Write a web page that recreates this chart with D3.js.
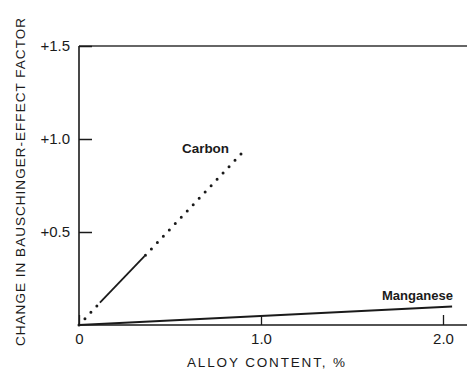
<!DOCTYPE html>
<html>
<head>
<meta charset="utf-8">
<script src="https://cdn.jsdelivr.net/npm/d3@7"></script>
<style>
  body { margin: 0; background: #fff; }
  svg text { font-family: "Liberation Sans", Arial, sans-serif; fill: #1a1a1a; }
</style>
</head>
<body>
<div id="chart"></div>
<script>
// values
let xTicks = [0, 1.0, 2.0];
let yTicks = [0.5, 1.0, 1.5];
let carbonDotLow = [[0, 0], [0.115, 0.12]];
let carbonSolid = [[0.115, 0.12], [0.36, 0.37]];
let carbonDotHigh = [[0.365, 0.375], [0.91, 0.94]];
let manganese = [[0, 0], [2.05, 0.1]];

let W = 467, H = 372;
let svg = d3.select("#chart").append("svg").attr("width", W).attr("height", H);

// scales: 0 -> 79px, 2.0 -> 443px ; 0 -> 325px, 1.5 -> 46px
let x = d3.scaleLinear().domain([0, 2]).range([79, 443]);
let y = d3.scaleLinear().domain([0, 1.5]).range([325, 46]);
let ink = "#1a1a1a";

// top frame line
svg.append("line")
    .attr("x1", x(0)).attr("x2", W)
    .attr("y1", y(1.5)).attr("y2", y(1.5))
    .attr("stroke", "#333").attr("stroke-width", 1.3);

// y axis
let yAxis = svg.append("g")
    .attr("transform", `translate(${x(0)},0)`)
    .call(d3.axisLeft(y).tickValues(yTicks).tickSize(-13).tickPadding(9)
        .tickFormat(d => "+" + d.toFixed(1)));
yAxis.select(".domain").remove();
yAxis.append("line").attr("x1", 0).attr("x2", 0).attr("y1", y(1.5)).attr("y2", y(0))
    .attr("stroke", ink).attr("stroke-width", 1.6);
yAxis.selectAll(".tick line").attr("stroke", ink).attr("stroke-width", 1.5);
yAxis.selectAll(".tick text").attr("font-size", 15).attr("fill", ink);

// x axis
let xAxis = svg.append("g")
    .attr("transform", `translate(0,${y(0)})`)
    .call(d3.axisBottom(x).tickValues(xTicks).tickSize(-10).tickPadding(8)
        .tickFormat(d => d === 0 ? "0" : d.toFixed(1)));
xAxis.select(".domain").remove();
xAxis.append("line").attr("x1", x(0)).attr("x2", W).attr("y1", 0).attr("y2", 0)
    .attr("stroke", ink).attr("stroke-width", 1.6);
xAxis.selectAll(".tick line").attr("stroke", ink).attr("stroke-width", 1.3);
xAxis.selectAll(".tick text").attr("font-size", 15).attr("fill", ink);

// axis titles
svg.append("text")
    .attr("transform", `translate(25,${(18 + 346) / 2}) rotate(-90)`)
    .attr("text-anchor", "middle")
    .attr("font-size", 13.5)
    .attr("textLength", 328).attr("lengthAdjust", "spacing")
    .text("CHANGE IN BAUSCHINGER-EFFECT FACTOR");

svg.append("text")
    .attr("x", 266).attr("y", 367)
    .attr("text-anchor", "middle")
    .attr("font-size", 13.5)
    .attr("textLength", 158).attr("lengthAdjust", "spacing")
    .text("ALLOY CONTENT, %");

// lines
let line = d3.line().x(d => x(d[0])).y(d => y(d[1]));

[carbonDotLow, carbonDotHigh].forEach(seg => {
    svg.append("path")
        .attr("d", line(seg))
        .attr("fill", "none")
        .attr("stroke", ink)
        .attr("stroke-width", 3)
        .attr("stroke-linecap", "round")
        .attr("stroke-dasharray", "0 8.7");
});

svg.append("path")
    .attr("d", line(carbonSolid))
    .attr("fill", "none")
    .attr("stroke", ink)
    .attr("stroke-width", 1.8);

svg.append("path")
    .attr("d", line(manganese))
    .attr("fill", "none")
    .attr("stroke", ink)
    .attr("stroke-width", 2);

// series labels
svg.append("text")
    .attr("x", 182).attr("y", 153)
    .attr("font-size", 13).attr("font-weight", "bold")
    .attr("textLength", 47).attr("lengthAdjust", "spacingAndGlyphs")
    .text("Carbon");

svg.append("text")
    .attr("x", 382).attr("y", 300)
    .attr("font-size", 13).attr("font-weight", "bold")
    .attr("textLength", 71).attr("lengthAdjust", "spacingAndGlyphs")
    .text("Manganese");
</script>
</body>
</html>
